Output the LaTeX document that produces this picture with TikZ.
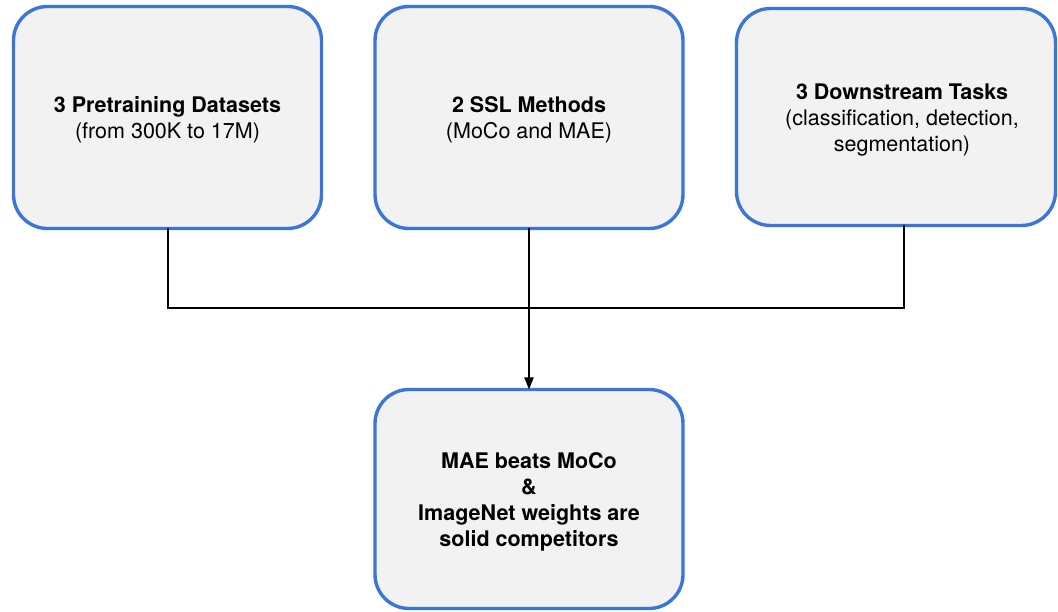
\documentclass[tikz,border=0pt]{standalone}
\usepackage{fontspec}
\setmainfont{TeX Gyre Heros}
\usetikzlibrary{arrows.meta}
\definecolor{boxblue}{RGB}{58,118,215}
\definecolor{boxfill}{RGB}{242,242,242}
% tall strut on the first line sets the text block slightly lower in its box
\newcommand{\toppad}{\rule{0pt}{21.5pt}}
\begin{document}
\begin{tikzpicture}[x=1pt,y=-1pt,
  card/.style={draw=boxblue, fill=boxfill, line width=3.4pt, rounded corners=34pt,
    inner sep=0pt, outer sep=0pt, align=center,
    font=\fontsize{21.5}{26}\selectfont},
  link/.style={draw=black, line width=1.8pt},
  head/.style={-{Triangle[length=12pt,width=9pt]}}]
  \useasboundingbox (0,0) rectangle (1058,612);

  % three input boxes
  \node[card, minimum width=308pt, minimum height=222pt] (data) at (167.5,117.5)
    {\toppad\textbf{3 Pretraining Datasets}\\(from 300K to 17M)};
  \node[card, minimum width=308pt, minimum height=222pt] (ssl) at (529,117.5)
    {\toppad\textbf{2 SSL Methods}\\(MoCo and MAE)};
  \node[card, minimum width=319pt, minimum height=217pt] (tasks) at (896,117)
    {\hspace*{12pt}\toppad\textbf{3 Downstream Tasks}\\\hspace*{12pt}(classification, detection,\\\hspace*{12pt}segmentation)};

  % result box
  \node[card, minimum width=308pt, minimum height=219pt] (result) at (529,499)
    {\toppad\textbf{MAE beats MoCo}\\\textbf{\&}\\\textbf{ImageNet weights are}\\\textbf{solid competitors}};

  % junction of the three feeds
  \coordinate (join) at (529,308);
  \coordinate (leftfeed) at (168,308);
  \coordinate (rightfeed) at (904,308);

  \draw[link] (data.south -| leftfeed) -- (leftfeed) -- (join);
  \draw[link] (tasks.south -| rightfeed) -- (rightfeed) -- (join);
  \draw[link, head] (ssl.south) -- (result.north);
\end{tikzpicture}
\end{document}
